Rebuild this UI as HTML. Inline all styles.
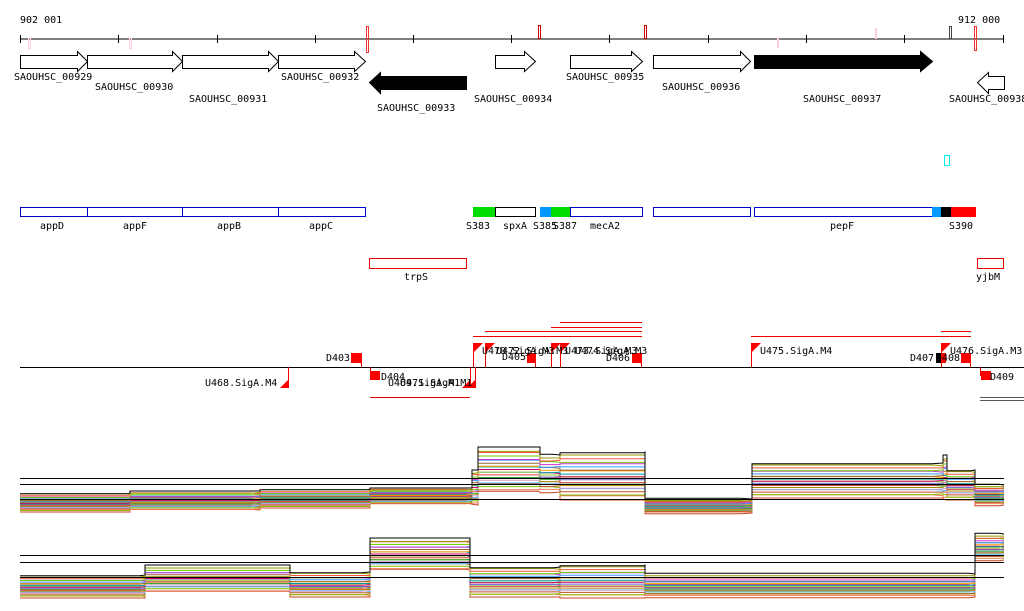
<!DOCTYPE html>
<html><head><meta charset="utf-8"><style>
body{margin:0;background:#fff}
svg{display:block}
text{font-family:"DejaVu Sans Mono","Liberation Mono",monospace;font-size:10px;fill:#000}
</style></head><body>
<svg id="c" width="1024" height="611" viewBox="0 0 1024 611">
<g>
<text x="20" y="23">902 001</text>
<text x="958" y="23">912 000</text>
<line x1="20" y1="39" x2="1004" y2="39" stroke="#000"/>
<g stroke="#000">
<line x1="20.5" y1="35" x2="20.5" y2="43"/><line x1="118.5" y1="35" x2="118.5" y2="43"/><line x1="217.5" y1="35" x2="217.5" y2="43"/><line x1="315.5" y1="35" x2="315.5" y2="43"/><line x1="413.5" y1="35" x2="413.5" y2="43"/><line x1="511.5" y1="35" x2="511.5" y2="43"/><line x1="609.5" y1="35" x2="609.5" y2="43"/><line x1="708.5" y1="35" x2="708.5" y2="43"/><line x1="806.5" y1="35" x2="806.5" y2="43"/><line x1="904.5" y1="35" x2="904.5" y2="43"/><line x1="1003.5" y1="35" x2="1003.5" y2="43"/>
</g>
<g fill="none">
<rect x="28.5" y="38.5" width="2" height="10" stroke="#fcd"/>
<rect x="129.5" y="38.5" width="2" height="10" stroke="#fcd"/>
<rect x="366.5" y="26.5" width="2" height="26" stroke="#e33"/>
<rect x="538.5" y="25.5" width="2" height="13" stroke="#c00"/>
<rect x="644.5" y="25.5" width="2" height="13" stroke="#c00"/>
<rect x="777.5" y="38.5" width="1" height="9" stroke="#fcd"/>
<rect x="875.5" y="28.5" width="1" height="10" stroke="#fcd"/>
<rect x="949.5" y="26.5" width="2" height="12" stroke="#444"/>
<rect x="974.5" y="26.5" width="2" height="24" stroke="#e33"/>
</g>
</g>
<g stroke="#000">
<path d="M20.5,55.5H77.5V51.5L87.5,61.5L77.5,71.5V68.5H20.5Z" fill="#fff"/>
<path d="M87.5,55.5H172.5V51.5L182.5,61.5L172.5,71.5V68.5H87.5Z" fill="#fff"/>
<path d="M182.5,55.5H268.5V51.5L278.5,61.5L268.5,71.5V68.5H182.5Z" fill="#fff"/>
<path d="M278.5,55.5H354.5V51.5L365.5,61.5L354.5,71.5V68.5H278.5Z" fill="#fff"/>
<path d="M466.5,76.5V89.5H380.5V93.5L369.5,82.5L380.5,72.5V76.5Z" fill="#000"/>
<path d="M495.5,55.5H524.5V51.5L535.5,61.5L524.5,71.5V68.5H495.5Z" fill="#fff"/>
<path d="M570.5,55.5H631.5V51.5L642.5,61.5L631.5,71.5V68.5H570.5Z" fill="#fff"/>
<path d="M653.5,55.5H740.5V51.5L750.5,61.5L740.5,71.5V68.5H653.5Z" fill="#fff"/>
<path d="M754.5,55.5H920.5V51.5L932.5,61.5L920.5,71.5V68.5H754.5Z" fill="#000"/>
<path d="M1004.5,76.5V89.5H988.5V93.5L977.5,82.5L988.5,72.5V76.5Z" fill="#fff"/>
</g>
<g>
<text x="14" y="80">SAOUHSC_00929</text><text x="95" y="90">SAOUHSC_00930</text><text x="189" y="102">SAOUHSC_00931</text><text x="281" y="80">SAOUHSC_00932</text><text x="377" y="111">SAOUHSC_00933</text><text x="474" y="102">SAOUHSC_00934</text><text x="566" y="80">SAOUHSC_00935</text><text x="662" y="90">SAOUHSC_00936</text><text x="803" y="102">SAOUHSC_00937</text><text x="949" y="102">SAOUHSC_00938</text>
</g>
<rect x="944.5" y="155.5" width="5" height="10" fill="none" stroke="#0ee"/>
<g>
<g fill="#fff" stroke="#00c">
<rect x="20.5" y="207.5" width="67" height="9"/><rect x="87.5" y="207.5" width="95" height="9"/><rect x="182.5" y="207.5" width="96" height="9"/><rect x="278.5" y="207.5" width="87" height="9"/>
<rect x="570.5" y="207.5" width="72" height="9"/><rect x="653.5" y="207.5" width="97" height="9"/><rect x="754.5" y="207.5" width="178" height="9"/>
</g>
<rect x="495.5" y="207.5" width="40" height="9" fill="#fff" stroke="#000"/>
<rect x="473" y="207" width="22" height="10" fill="#0d0"/>
<rect x="540" y="207" width="11" height="10" fill="#09f"/>
<rect x="551" y="207" width="19" height="10" fill="#0d0"/>
<rect x="932" y="207" width="9" height="10" fill="#09f"/>
<rect x="941" y="207" width="10" height="10" fill="#000"/>
<rect x="951" y="207" width="25" height="10" fill="#f00"/>
<text x="40" y="229">appD</text><text x="123" y="229">appF</text><text x="217" y="229">appB</text><text x="309" y="229">appC</text>
<text x="466" y="229">S383</text><text x="503" y="229">spxA</text><text x="533" y="229">S385</text><text x="553" y="229">S387</text><text x="590" y="229">mecA2</text><text x="830" y="229">pepF</text><text x="949" y="229">S390</text>
</g>
<g>
<rect x="369.5" y="258.5" width="97" height="10" fill="none" stroke="#e00"/>
<text x="404" y="280">trpS</text>
<rect x="977.5" y="258.5" width="26" height="10" fill="none" stroke="#e00"/>
<text x="976" y="280">yjbM</text>
</g>
<g>
<line x1="20" y1="367.5" x2="1024" y2="367.5" stroke="#000"/>
<g stroke="#e00">
<line x1="560" y1="322.5" x2="642" y2="322.5"/><line x1="551" y1="327.5" x2="642" y2="327.5"/><line x1="485" y1="331.5" x2="642" y2="331.5"/><line x1="473" y1="336.5" x2="642" y2="336.5"/>
<line x1="751" y1="336.5" x2="971" y2="336.5"/><line x1="941" y1="331.5" x2="971" y2="331.5"/>
<line x1="370" y1="397.5" x2="470" y2="397.5"/>
<line x1="980" y1="397.5" x2="1024" y2="397.5" stroke="#555"/><line x1="980" y1="400.5" x2="1024" y2="400.5" stroke="#555"/>
<line x1="361.5" y1="357" x2="361.5" y2="367"/><line x1="370.5" y1="367" x2="370.5" y2="376"/>
<line x1="288.5" y1="367" x2="288.5" y2="388"/><line x1="470.5" y1="367" x2="470.5" y2="388"/><line x1="475.5" y1="367" x2="475.5" y2="388"/>
<line x1="473.5" y1="343" x2="473.5" y2="367"/><line x1="485.5" y1="343" x2="485.5" y2="367"/><line x1="551.5" y1="343" x2="551.5" y2="367"/><line x1="560.5" y1="343" x2="560.5" y2="367"/>
<line x1="751.5" y1="343" x2="751.5" y2="367"/><line x1="941.5" y1="343" x2="941.5" y2="367"/><line x1="535.5" y1="357" x2="535.5" y2="367"/><line x1="641.5" y1="357" x2="641.5" y2="367"/><line x1="970.5" y1="357" x2="970.5" y2="367"/>
<line x1="980.5" y1="367" x2="980.5" y2="376"/>
</g>
<g fill="#f00">
<rect x="351" y="353" width="11" height="10"/><rect x="370" y="371" width="10" height="9"/>
<rect x="527" y="353" width="9" height="10"/><rect x="632" y="353" width="10" height="10"/>
<rect x="961" y="353" width="10" height="10"/><rect x="981" y="371" width="10" height="9"/><rect x="936" y="353" width="10" height="10"/>
<path d="M280,388H288V380Z"/><path d="M462,388H470V380Z"/><path d="M467,388H475V380Z"/>
<path d="M473,343H483L473,353Z"/><path d="M485,343H495L485,353Z"/><path d="M551,343H561L551,353Z"/><path d="M560,343H570L560,353Z"/>
<path d="M751,343H761L751,353Z"/><path d="M941,343H951L941,353Z"/>
</g>
<rect x="936" y="353" width="5" height="10" fill="#000"/>
<text x="326" y="361">D403</text><text x="381" y="380">D404</text><text x="205" y="386">U468.SigA.M4</text><text x="388" y="386">U469.SigA.M1</text><text x="400" y="386">U471.SigA.M1</text>
<text x="482" y="354">U470.SigA.M3</text><text x="496" y="354">U472.SigA.M3</text><text x="502" y="360">D405</text><text x="565" y="354">U473.SigA.M3</text><text x="575" y="354">U474.SigA.M3</text><text x="606" y="361">D406</text>
<text x="760" y="354">U475.SigA.M4</text><text x="910" y="361">D407</text><text x="936" y="361">D408</text><text x="950" y="354">U476.SigA.M3</text><text x="990" y="380">D409</text>
</g>
<g id="t1">
<line x1="20" y1="478.5" x2="1004" y2="478.5" stroke="#000"/><line x1="20" y1="484.5" x2="1004" y2="484.5" stroke="#000"/><line x1="20" y1="499.5" x2="1004" y2="499.5" stroke="#000"/>
</g>
<g id="t2">
<line x1="20" y1="555.5" x2="1004" y2="555.5" stroke="#000"/><line x1="20" y1="562.5" x2="1004" y2="562.5" stroke="#000"/><line x1="20" y1="577.5" x2="1004" y2="577.5" stroke="#000"/>
</g>
</svg>
<script>
// segment boundaries (x positions on genome axis) and per-segment levels (pixel y of signal)
const seg1Starts=[20,130,260,370,472,478,540,560,645,752,943,947,975,1004];
const seg1Top=[493,491,489,488,470,447,455,452,499,463,455,470,485];
const seg1Bot=[512,510,508,504,505,492,492,500,513,498,500,500,505];
const seg2Starts=[20,145,290,370,470,560,645,975,1004];
const seg2Top=[575,565,572,538,567,565,574,534];
const seg2Bot=[598,592,597,570,597,598,597,560];
const seriesFrac=[0,0.08,0.14,0.2,0.26,0.31,0.36,0.41,0.46,0.5,0.54,0.58,0.62,0.66,0.7,0.74,0.78,0.83,0.88,0.93,1];
const seriesColors=["#000","#990","#e53","#6c0","#c3c","#39f","#963","#f90","#099","#c06","#9c3","#66c","#d44","#3a3","#a80","#c9c","#5bf","#b52","#8b0","#e75","#c42"];
function draw(id,starts,top,bot){
  const g=document.getElementById(id);
  seriesFrac.forEach((f,i)=>{
    let d="";
    for(let s=0;s<top.length;s++){
      const y=top[s]+(bot[s]-top[s])*f;
      const x0=starts[s],x1=starts[s+1];
      for(let x=x0;x<=x1;x+=12){
        const w=((x*7+i*13)%3)-1;
        d+=(d?"L":"M")+Math.min(x,x1)+","+(y+w*0.8).toFixed(1);
      }
      d+="L"+x1+","+y.toFixed(1);
    }
    const p=document.createElementNS("http://www.w3.org/2000/svg","path");
    p.setAttribute("d",d);p.setAttribute("fill","none");
    p.setAttribute("stroke",seriesColors[i]);p.setAttribute("stroke-width","1");
    
    
    g.insertBefore(p,g.firstChild);
  });
}
draw("t1",seg1Starts,seg1Top,seg1Bot);
draw("t2",seg2Starts,seg2Top,seg2Bot);
</script>
</body></html>
